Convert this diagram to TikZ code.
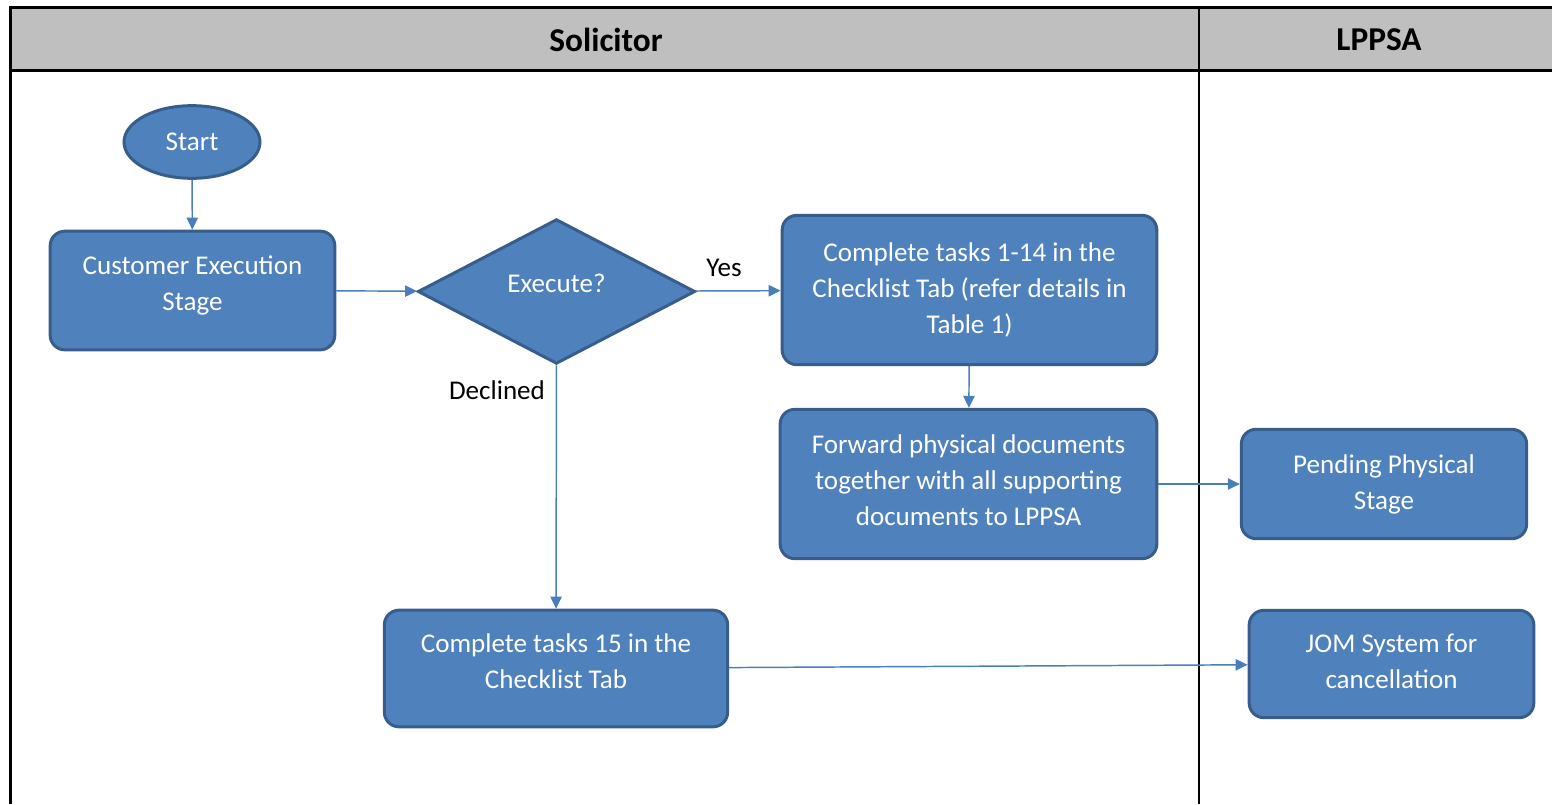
\documentclass[tikz,border=0pt]{standalone}
\usepackage{fontspec}
\setmainfont{Carlito}
\usetikzlibrary{shapes.geometric,arrows.meta}

\definecolor{boxfill}{RGB}{79,129,189}
\definecolor{boxline}{RGB}{56,93,138}
\definecolor{flowline}{RGB}{74,126,187}
\definecolor{headfill}{RGB}{191,191,191}

% invisible strut that pushes the text block up inside its shape
\newcommand\liftby[1]{\rule[-#1]{0pt}{#1}}

\tikzset{every picture/.style={line width=0.75pt}}
\tikzset{
  task/.style={draw=boxline, fill=boxfill, line width=2.25pt, rounded corners=11pt,
    text=white, align=center, font=\fontsize{20.3}{27}\selectfont, inner sep=0pt},
  terminal/.style={task, ellipse, rounded corners=0pt},
  decision/.style={task, diamond, rounded corners=0pt},
  flow/.style={draw=flowline, line width=1.1pt, -{Triangle[length=9pt,width=8.5pt]}},
  lbl/.style={font=\fontsize{20.3}{27}\selectfont, inner sep=0.75pt},
  lanehead/.style={font=\fontsize{25}{30}\selectfont\bfseries, inner sep=0.75pt}
}

\begin{document}
\begin{tikzpicture}[x=0.75pt,y=0.75pt,yscale=-1,xscale=1]
\useasboundingbox (0,0) rectangle (1552,804);

%Shape: Lane header
\fill [headfill] (10,7) rectangle (1552,70);
%Straight Lines: frame
\draw [line width=2.25pt] (1552,7) -- (10,7) -- (10,804);
\draw [line width=2.25pt] (10,70) -- (1552,70);
\draw [line width=1.1pt] (1199,7) -- (1199,804);

% Text Node
\node [lanehead] (solicitor) at (606,40) {Solicitor};
% Text Node
\node [lanehead] (lppsa) at (1379,40) {LPPSA};

%Shape: Ellipse
\node [terminal, minimum width=102pt, minimum height=54.5pt] (start) at (192,142) {Start};
%Shape: Rounded Rectangle
\node [task, minimum width=213.5pt, minimum height=89pt] (custexec) at (192.5,290.5) {Customer Execution\\Stage\liftby{11.7pt}};
%Shape: Diamond
\node [decision, minimum width=208pt, minimum height=108.5pt] (execute) at (556.5,291.5) {Execute?\liftby{12pt}};
%Shape: Rounded Rectangle
\node [task, minimum width=281pt, minimum height=112pt] (tasksA) at (969.5,290) {Complete tasks 1-14 in the\\Checklist Tab (refer details in\\Table 1)};
%Shape: Rounded Rectangle
\node [task, minimum width=282.5pt, minimum height=112pt] (forward) at (968.5,484) {Forward physical documents\\together with all supporting\\documents to LPPSA\liftby{5.2pt}};
%Shape: Rounded Rectangle
\node [task, minimum width=214pt, minimum height=82pt] (pending) at (1384,484) {Pending Physical\\Stage};
%Shape: Rounded Rectangle
\node [task, minimum width=257.5pt, minimum height=87.5pt] (tasksB) at (556,668.5) {Complete tasks 15 in the\\Checklist Tab\liftby{10.5pt}};
%Shape: Rounded Rectangle
\node [task, minimum width=213.5pt, minimum height=80.5pt] (jom) at (1391.5,664) {JOM System for\\cancellation\liftby{4.5pt}};

%Straight Lines
\draw [flow] (start) -- (custexec);
\draw [flow] (custexec) -- (execute);
\draw [flow] (execute) -- (tasksA);
\draw [flow] (execute) -- (tasksB);
\draw [flow] (tasksA) -- (forward);
\draw [flow] (forward) -- (pending);
\draw [flow] (tasksB) -- (jom);

% Text Node
\node [lbl] (yes) at (724,268) {Yes};
% Text Node
\node [lbl] (declined) at (497,390) {Declined};

\end{tikzpicture}
\end{document}
